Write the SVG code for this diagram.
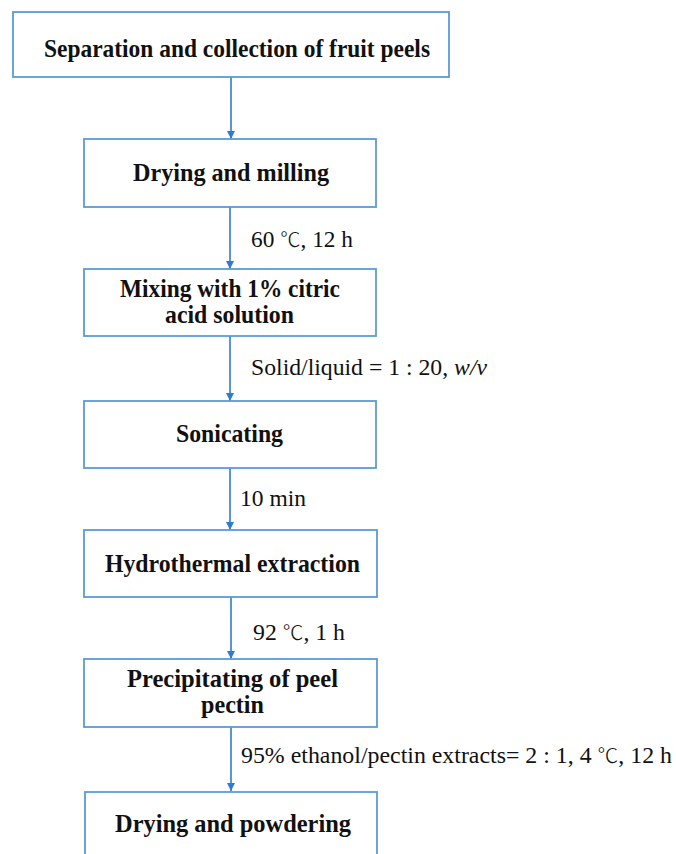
<svg xmlns="http://www.w3.org/2000/svg" width="676" height="854" viewBox="0 0 676 854">
<style>
.box{fill:#fff;stroke:#5B9BD5;stroke-width:1.8}
.t{font-family:"Liberation Serif","Times New Roman",serif;font-weight:bold;font-size:25px;fill:#111;text-anchor:middle}
.l{font-family:"Liberation Serif","Times New Roman",serif;font-size:23px;fill:#111}
.dg{font-family:"Noto Sans CJK SC","Liberation Serif",serif;font-weight:300;font-size:20px}
.c{stroke:#2E7BCF;stroke-width:1.6;fill:none;marker-end:url(#ah)}
</style>
<defs>
<marker id="ah" markerUnits="userSpaceOnUse" markerWidth="9" markerHeight="9" viewBox="0 0 9 9" refX="8" refY="4.5" orient="auto">
<path d="M0,0.5 L8,4.5 L0,8.5 z" fill="#2E7BCF"/>
</marker>
</defs>
<rect width="676" height="854" fill="#fff"/>
<g id="connectors">
<line class="c" x1="231" y1="77" x2="231" y2="139"/>
<line class="c" x1="230" y1="207" x2="230" y2="269"/>
<line class="c" x1="230" y1="336" x2="230" y2="401"/>
<line class="c" x1="230" y1="468" x2="230" y2="530"/>
<line class="c" x1="231" y1="597" x2="231" y2="659"/>
<line class="c" x1="231" y1="727" x2="231" y2="791"/>
</g>
<g id="n1"><rect class="box" x="13" y="12" width="436" height="65"/><text class="t" x="237" y="57" textLength="386" lengthAdjust="spacingAndGlyphs">Separation and collection of fruit peels</text></g>
<g id="n2"><rect class="box" x="84" y="139" width="292" height="68"/><text class="t" x="231" y="181" textLength="196" lengthAdjust="spacingAndGlyphs">Drying and milling</text></g>
<g id="n3"><rect class="box" x="84" y="269" width="292" height="67"/><text class="t" x="230" y="297" textLength="220" lengthAdjust="spacingAndGlyphs">Mixing with 1% citric</text><text class="t" x="229.5" y="323" textLength="129" lengthAdjust="spacingAndGlyphs">acid solution</text></g>
<g id="n4"><rect class="box" x="84" y="401" width="292" height="67"/><text class="t" x="229.5" y="442" textLength="107" lengthAdjust="spacingAndGlyphs">Sonicating</text></g>
<g id="n5"><rect class="box" x="84" y="530" width="293" height="67"/><text class="t" x="232.5" y="572" textLength="255" lengthAdjust="spacingAndGlyphs">Hydrothermal extraction</text></g>
<g id="n6"><rect class="box" x="84" y="659" width="293" height="68"/><text class="t" x="232.5" y="687" textLength="211" lengthAdjust="spacingAndGlyphs">Precipitating of peel</text><text class="t" x="232.5" y="713" textLength="63" lengthAdjust="spacingAndGlyphs">pectin</text></g>
<g id="n7"><rect class="box" x="85" y="792" width="292" height="80"/><text class="t" x="233" y="832" textLength="236" lengthAdjust="spacingAndGlyphs">Drying and powdering</text></g>
<g id="labels">
<text class="l" x="251" y="247" textLength="102" lengthAdjust="spacingAndGlyphs">60 <tspan class="dg">℃</tspan>, 12 h</text>
<text class="l" x="251" y="375" textLength="236" lengthAdjust="spacingAndGlyphs">Solid/liquid = 1 : 20, <tspan font-style="italic">w/v</tspan></text>
<text class="l" x="240" y="506" textLength="66" lengthAdjust="spacingAndGlyphs">10 min</text>
<text class="l" x="253" y="640" textLength="92" lengthAdjust="spacingAndGlyphs">92 <tspan class="dg">℃</tspan>, 1 h</text>
<text class="l" x="241" y="763" textLength="431" lengthAdjust="spacingAndGlyphs">95% ethanol/pectin extracts= 2 : 1, 4 <tspan class="dg">℃</tspan>, 12 h</text>
</g>
</svg>
